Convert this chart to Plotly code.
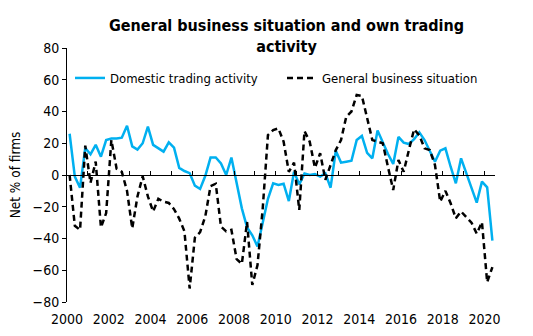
import plotly.graph_objects as go

# Quarterly survey periods, 2000 Q1 to 2020 Q2
start_year = 2000
n_quarters = 82
quarters = [f"{start_year + k // 4}Q{k % 4 + 1}" for k in range(n_quarters)]

# Net % of firms reporting higher own domestic trading activity
domestic_trading = [
    26, -1, -8, 17, 13, 19, 11.5, 22, 23, 23, 23.5, 31, 18, 16, 20, 30.5,
    19, 16.8, 14.7, 20.6, 17.2, 4.5, 2.5, 1.2, -6.7, -8.8, -0.5, 11, 11, 7.3, 0, 11,
    -5, -21, -33, -38, -45, -30, -15, -5.2, -6.3, -5.5, -16.4, 2, -5.9, 1, 0, 0.6,
    -1, 1, -8, 15.3, 7.8, 8.4, 9, 22, 24.6, 14, 10.5, 28, 20.4, 13.2, 7, 24,
    20.4, 19.5, 22.5, 26.9, 22, 15.7, 8.4, 15.3, 16.8, 5.2, -5.2, 10.5, 1, -8, -17.4, -4.2,
    -7.8, -41.4,
]

# Net % of firms expecting the general business situation to improve
general_business = [
    0, -32, -34.6, 18.5, -5, 8.4, -33, -24, 22, 4, 2, -10, -33.6, -13.5, -0.8, -13.5,
    -23, -15, -16.8, -17.6, -21.5, -27.5, -35.5, -71.5, -39.5, -36, -26, -7, -5.5, -32.5, -35.5, -34.6,
    -53, -56, -29.6, -69.3, -56.7, -21, 25.2, 28.3, 29.4, 21, 2, 7.8, -22, 27.7, 21, 4.5,
    13.7, -3, 6.3, 15.7, 22, 36.7, 40, 50.4, 49.8, 35.7, 22, 21, 20, 5, -9.4, 9.4,
    2, 15.7, 28.8, 25, 16.8, 15.7, 6.3, -16.8, -10, -17.8, -27.3, -23, -26.2, -30, -37, -29.7,
    -67.5, -58,
]

year_ticks = list(range(2000, 2021, 2))
year_tick_labels = [str(y) for y in year_ticks]
minor_years = list(range(2000, 2021))
y_ticks = list(range(-80, 81, 20))


def quarter_to_x(label):
    """Place each quarter in the middle of its slot on a decimal-year scale."""
    year, q = label.split("Q")
    return int(year) + (int(q) - 0.5) / 4


x_vals = [quarter_to_x(q) for q in quarters]

FONT = "DejaVu Sans Condensed, Liberation Sans, Arial, sans-serif"
BLUE = "#00B0F0"

fig = go.Figure()
fig.add_trace(go.Scatter(
    x=x_vals, y=domestic_trading, mode="lines",
    name="Domestic trading activity",
    line=dict(color=BLUE, width=2.5),
    legend="legend",
))
fig.add_trace(go.Scatter(
    x=x_vals, y=general_business, mode="lines",
    name="General business situation",
    line=dict(color="black", width=2.5, dash="6px,4px"),
    xaxis="x2",
    legend="legend2",
))

x_range = [2000, 2020.5]

fig.update_layout(
    width=533, height=336,
    margin=dict(l=67, r=38, t=48, b=34),
    paper_bgcolor="white", plot_bgcolor="white",
    font=dict(family=FONT, size=13, color="black"),
    title=dict(
        text="<b>General business situation and own trading<br>activity</b>",
        x=286.5 / 533, xanchor="center",
        y=1 - 31 / 336, yanchor="middle",
        font=dict(family=FONT, size=16, color="black"),
    ),
    xaxis=dict(
        range=x_range, showgrid=False, zeroline=False, showline=False,
        tickvals=year_ticks, ticktext=year_tick_labels, ticks="",
        ticklabelstandoff=7, automargin=False,
        tickfont=dict(size=14), fixedrange=True,
    ),
    xaxis2=dict(
        range=x_range, overlaying="x", anchor="free", position=0.5, side="bottom",
        showgrid=False, zeroline=False, showline=True, linecolor="black", linewidth=1,
        tickvals=minor_years, ticks="inside", ticklen=4, tickcolor="black",
        showticklabels=False, automargin=False,
    ),
    yaxis=dict(
        range=[-80, 80], tickvals=y_ticks, showgrid=False, zeroline=False,
        showline=True, linecolor="black", linewidth=1,
        ticks="outside", ticklen=4, tickcolor="black",
        tickfont=dict(size=14), automargin=False,
        title=dict(text="Net % of firms", font=dict(size=13.5), standoff=8),
    ),
    legend=dict(
        x=(110 - 40 - 67) / 428, y=(302 - 78) / 254, xanchor="left", yanchor="middle",
        orientation="h", bgcolor="rgba(0,0,0,0)", font=dict(size=13),
    ),
    legend2=dict(
        x=(322 - 40 - 67) / 428, y=(302 - 78) / 254, xanchor="left", yanchor="middle",
        orientation="h", bgcolor="rgba(0,0,0,0)", font=dict(size=13),
    ),
    showlegend=True,
)

fig.write_html("out.html")
